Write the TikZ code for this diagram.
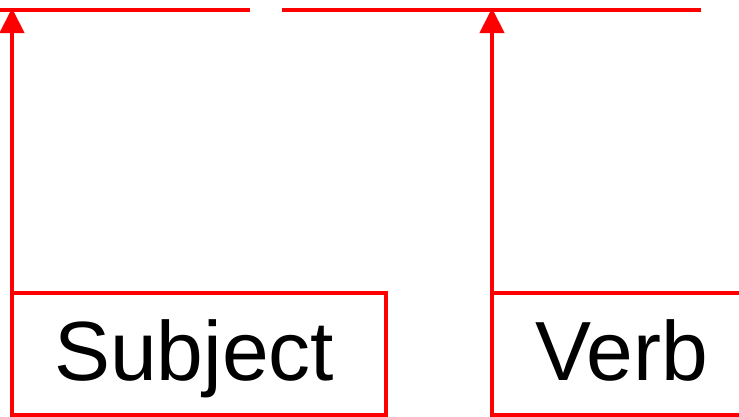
\documentclass[tikz,border=0pt]{standalone}
\usepackage{fontspec}
\setmainfont{Liberation Sans}
\usetikzlibrary{arrows.meta}
\begin{document}
\begin{tikzpicture}[x=1pt,y=-1pt,
  redline/.style={draw=red,line width=4pt},
  wordbox/.style={draw=red,line width=3.5pt,minimum width=374pt,minimum height=122pt,inner sep=0pt,outer sep=0pt},
  word/.style={font=\fontsize{84}{92}\selectfont,inner sep=0pt,anchor=base west},
  uparrow/.style={draw=red,line width=4pt,-{Triangle[length=25pt,width=24pt]}}]
\useasboundingbox (0,0) rectangle (739,416);
\clip (0,0) rectangle (739,416);
\coordinate (l1a) at (-5,10);
\coordinate (l1b) at (250,10);
\coordinate (l2a) at (282,10);
\coordinate (l2b) at (701,10);
\draw[redline] (l1a) -- (l1b);
\draw[redline] (l2a) -- (l2b);
\node[wordbox] (subj) at (199,354) {};
\node[wordbox] (verb) at (679,354) {};
\node[word] (subjt) at (54,380) {Subject};
\node[word] (verbt) at (535,380) {Verb};
\coordinate (t1) at (12,8);
\coordinate (t2) at (492,8);
\draw[uparrow] (subj.north west) -- (t1);
\draw[uparrow] (verb.north west) -- (t2);
\end{tikzpicture}
\end{document}
